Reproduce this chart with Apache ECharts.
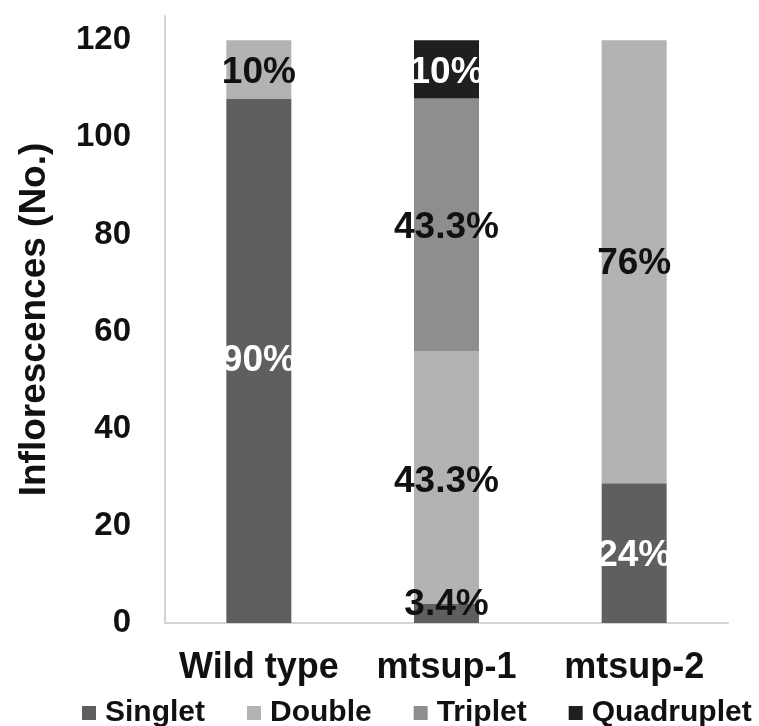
<!DOCTYPE html>
<html><head><meta charset="utf-8">
<script src="https://cdn.jsdelivr.net/npm/echarts@6/dist/echarts.min.js"></script>
<style>html,body{margin:0;padding:0;background:#fff}#c{width:759px;height:726px}</style>
</head><body><div id="c"></div>
<script>
const categories = ['Wild type', 'mtsup-1', 'mtsup-2'];
const seriesNames = ['Singlet', 'Double', 'Triplet', 'Quadruplet'];
const singlet = [108, 4, 28.8];
const double = [12, 52, 91.2];
const triplet = [0, 52, 0];
const quadruplet = [0, 12, 0];
const singletLabels = ['90%', '3.4%', '24%'];
const doubleLabels = ['10%', '43.3%', '76%'];
const tripletLabels = ['', '43.3%', ''];
const quadrupletLabels = ['', '10%', ''];
const yMin = 0, yMax = 125, yInterval = 20;

const colors = ['#5f5f5f', '#b3b3b3', '#8e8e8e', '#1f1f1f'];
const labelColors = [
  ['#ffffff', '#111111', '#ffffff'],
  ['#111111', '#111111', '#111111'],
  ['#111111', '#111111', '#111111'],
  ['#ffffff', '#ffffff', '#ffffff']
];
const labelOffsets = [
  [[0, 0], [0, -8], [0, 3]],
  [[0, 3], [0, 4], [0, 2]],
  [[0, 2], [0, 3], [0, 0]],
  [[0, 2], [0, 3], [0, 0]]
];
const values = [singlet, double, triplet, quadruplet];
const labels = [singletLabels, doubleLabels, tripletLabels, quadrupletLabels];
const FONT = '"Liberation Sans", Arial, sans-serif';

const series = seriesNames.map((name, si) => ({
  name: name,
  type: 'bar',
  stack: 'total',
  barWidth: 65,
  itemStyle: { color: colors[si] },
  data: values[si].map((v, i) => ({
    value: v,
    label: {
      show: v > 0 && labels[si][i] !== '',
      position: 'inside',
      formatter: labels[si][i],
      color: labelColors[si][i],
      fontSize: 37,
      fontWeight: 'bold',
      fontFamily: FONT,
      offset: labelOffsets[si][i]
    }
  }))
}));

const chart = echarts.init(document.getElementById('c'), null, { renderer: 'canvas' });
chart.setOption({
  backgroundColor: '#ffffff',
  animation: false,
  grid: { left: 165, right: 31, top: 16, bottom: 103, containLabel: false },
  legend: {
    data: seriesNames,
    left: 77,
    top: 693,
    icon: 'rect',
    itemWidth: 14,
    itemHeight: 14,
    itemGap: 42,
    textStyle: { fontSize: 30, fontWeight: 'bold', fontFamily: FONT, color: '#111111', padding: [0, 0, 0, 4] }
  },
  xAxis: {
    type: 'category',
    data: categories,
    axisLine: { show: true, lineStyle: { color: '#d4d4d4', width: 2 } },
    axisTick: { show: false },
    axisLabel: { interval: 0, fontSize: 36, fontWeight: 'bold', fontFamily: FONT, color: '#111111', margin: 27 }
  },
  yAxis: {
    type: 'value',
    min: yMin,
    max: yMax,
    interval: yInterval,
    name: 'Inflorescences (No.)',
    nameLocation: 'middle',
    nameGap: 112,
    nameRotate: 90,
    nameTextStyle: { fontSize: 37, fontWeight: 'bold', fontFamily: FONT, color: '#111111' },
    axisLine: { show: true, lineStyle: { color: '#d4d4d4', width: 2 } },
    axisTick: { show: false },
    splitLine: { show: false },
    axisLabel: { showMaxLabel: false, fontSize: 33, fontWeight: 'bold', fontFamily: FONT, color: '#111111', margin: 34 }
  },
  series: series
});
</script>
</body></html>
